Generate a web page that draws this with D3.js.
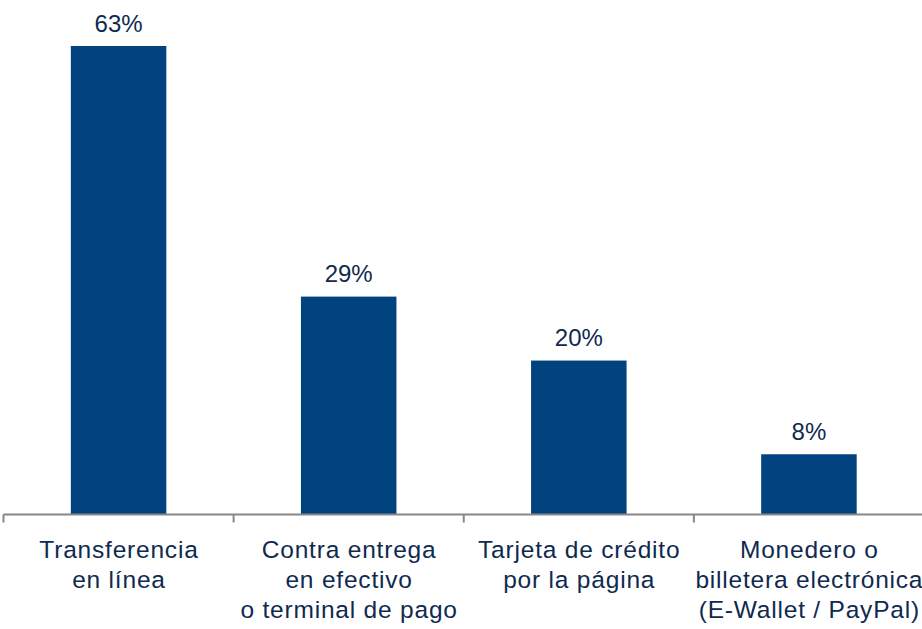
<!DOCTYPE html>
<html>
<head>
<meta charset="utf-8">
<script src="https://cdn.jsdelivr.net/npm/d3@7"></script>
<style>
  html, body { margin: 0; padding: 0; background: #fff; }
  svg { display: block; }
</style>
</head>
<body>
<svg id="chart" width="922" height="629"></svg>
<script>
const categories = [
  ["Transferencia", "en línea"],
  ["Contra entrega", "en efectivo", "o terminal de pago"],
  ["Tarjeta de crédito", "por la página"],
  ["Monedero o", "billetera electrónica", "(E-Wallet / PayPal)"]
];
const values = [63, 29.3, 20.7, 8.1];
const valueLabels = ["63%", "29%", "20%", "8%"];

const svg = d3.select("#chart");
const W = 922, H = 629;
const baseY = 514.5;
const font = "'Liberation Sans', Arial, sans-serif";
const textColor = "#0f2a4f";
const barColor = "#00437f";

const keys = categories.map((c, i) => i);
const x = d3.scaleBand().domain(keys).range([3.5, 924]).padding(0);
const y = d3.scaleLinear().domain([0, 63]).range([baseY, 46]);
const barW = x.step() * 0.415;

// bars
svg.selectAll("rect.bar").data(values).enter().append("rect")
  .attr("class", "bar")
  .attr("x", (d, i) => x(i) + x.bandwidth() / 2 - barW / 2)
  .attr("y", d => y(d))
  .attr("width", barW)
  .attr("height", d => baseY - y(d))
  .attr("fill", barColor);

// value labels
svg.selectAll("text.val").data(values).enter().append("text")
  .attr("class", "val")
  .attr("x", (d, i) => x(i) + x.bandwidth() / 2)
  .attr("y", d => y(d) - 14.5)
  .attr("text-anchor", "middle")
  .attr("font-family", font)
  .attr("font-size", 24)
  .attr("fill", textColor)
  .text((d, i) => valueLabels[i]);

// axis line
svg.append("line")
  .attr("x1", 3.5).attr("x2", 922)
  .attr("y1", baseY).attr("y2", baseY)
  .attr("stroke", "#878787").attr("stroke-width", 2);

// ticks at category boundaries
const tickPos = keys.map(k => x(k)).concat([x(keys[keys.length - 1]) + x.step()]);
svg.selectAll("line.tick").data(tickPos).enter().append("line")
  .attr("class", "tick")
  .attr("x1", d => d).attr("x2", d => d)
  .attr("y1", baseY).attr("y2", baseY + 8)
  .attr("stroke", "#878787").attr("stroke-width", 2);

// category labels
categories.forEach((lines, i) => {
  const t = svg.append("text")
    .attr("text-anchor", "middle")
    .attr("font-family", font)
    .attr("font-size", 24.5)
    .attr("letter-spacing", 0.8)
    .attr("fill", textColor);
  lines.forEach((ln, j) => {
    t.append("tspan")
      .attr("x", x(i) + x.bandwidth() / 2 + 0.4)
      .attr("y", 558 + j * 30)
      .text(ln);
  });
});
</script>
</body>
</html>
